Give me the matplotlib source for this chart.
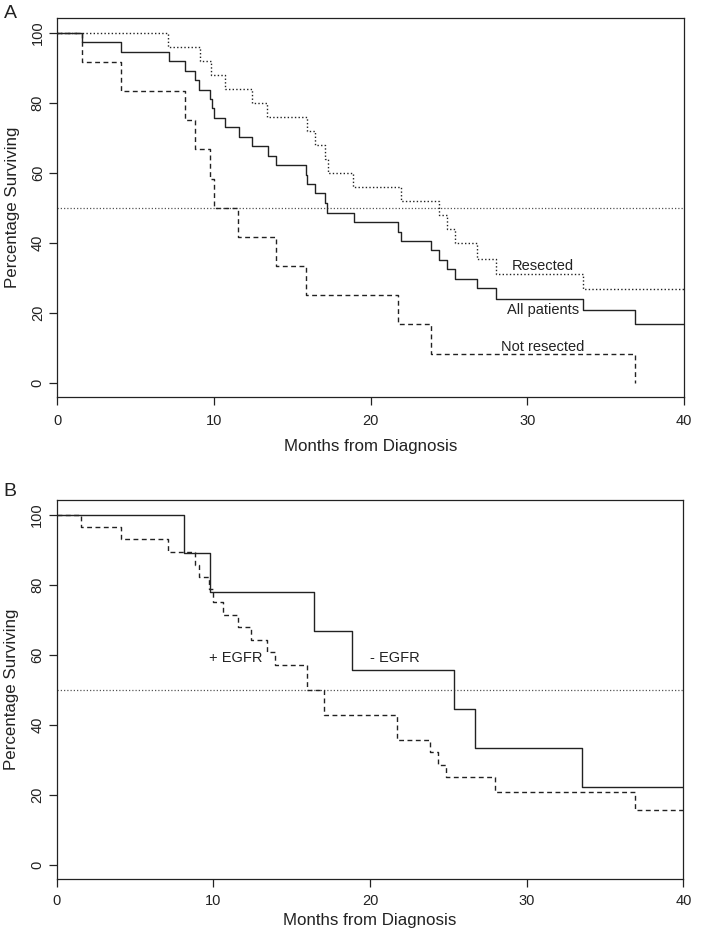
import numpy as np
import matplotlib
matplotlib.use("Agg")
import matplotlib.pyplot as plt

plt.rcParams['font.family'] = ['Liberation Sans', 'DejaVu Sans']

# Panel A: Kaplan-Meier curves (months, percentage surviving)
all_t = [0, 1.58, 4.09, 7.1, 8.13, 8.77, 9.04, 9.77, 9.85, 9.98, 10.72, 11.57, 12.42, 13.44,
         13.96, 15.87, 15.93, 16.45, 17.08, 17.2, 18.93, 21.76, 21.91, 23.83, 24.36, 24.89,
         25.4, 26.77, 28.02, 33.53, 36.9, 40]
all_s = [100, 97.3, 94.6, 91.9, 89.2, 86.5, 83.8, 81.1, 78.4, 75.7, 73.0, 70.3, 67.6, 64.9,
         62.2, 59.5, 56.8, 54.1, 51.4, 48.6, 45.9, 43.2, 40.5, 37.8, 35.1, 32.4,
         29.7, 27.0, 23.8, 20.8, 16.7, 16.7]

res_t = [0, 7.09, 9.09, 9.79, 10.68, 12.45, 13.4, 15.96, 16.43, 17.08, 17.3, 18.89, 21.91,
         24.34, 24.85, 25.38, 26.77, 28.02, 33.55, 40]
res_s = [100, 96.0, 92.0, 88.0, 84.0, 80.0, 76.0, 72.0, 68.0, 64.0, 60.0, 56.0, 52.0,
         48.0, 44.0, 39.8, 35.5, 31.2, 26.7, 26.7]

notres_t = [0, 1.58, 4.09, 8.15, 8.79, 9.74, 10.0, 11.55, 13.96, 15.87, 21.76, 23.83, 36.89]
notres_s = [100, 91.7, 83.3, 75.0, 66.7, 58.3, 50.0, 41.7, 33.3, 25.0, 16.7, 8.3, 0]

# Panel B: EGFR status
neg_t = [0, 8.13, 9.79, 16.43, 18.87, 25.38, 26.72, 33.52, 40]
neg_s = [100, 88.9, 77.8, 66.7, 55.6, 44.4, 33.3, 22.2, 22.2]

pos_t = [0, 1.55, 4.08, 7.09, 8.81, 9.08, 9.74, 9.96, 10.64, 11.55, 12.42, 13.4, 13.95,
         15.95, 17.08, 21.74, 23.82, 24.33, 24.86, 28.0, 36.89, 40]
pos_s = [100, 96.4, 92.9, 89.3, 85.7, 82.1, 78.6, 75.0, 71.4, 67.9, 64.3, 60.7, 57.1,
         50.0, 42.9, 35.7, 32.1, 28.6, 25.0, 20.8, 15.6, 15.6]

dashed = (0, (3.5, 2.5))
dotted = (0, (1, 1.6))
ink = '#222222'

fig = plt.figure(figsize=(7.19, 9.30), dpi=100)
axA = fig.add_axes([0.0797, 0.5728, 0.8716, 0.4075])
axB = fig.add_axes([0.0788, 0.0545, 0.8716, 0.4079])


def style(ax, xpad=6, xlabelpad=8):
    ax.set_xlim(0, 40)
    ax.set_ylim(-4.16, 104.16)
    ax.set_xticks([0, 10, 20, 30, 40])
    ax.set_yticks([0, 20, 40, 60, 80, 100])
    ax.set_yticklabels(['0', '20', '40', '60', '80', '100'], rotation=90, va='center')
    ax.tick_params(direction='out', length=6, width=0.9, colors=ink, labelsize=10.5)
    ax.tick_params(axis='x', pad=xpad)
    ax.tick_params(axis='y', pad=3)
    for sp in ax.spines.values():
        sp.set_linewidth(0.9)
        sp.set_color(ink)
    ax.set_xlabel('Months from Diagnosis', fontsize=12.2, color=ink, labelpad=xlabelpad)
    ax.set_ylabel('Percentage Surviving', fontsize=12.2, color=ink, labelpad=8)
    ax.axhline(50, color='#555555', lw=0.9, linestyle=dotted)


style(axA)
axA.step(all_t, all_s, where='post', color=ink, lw=1.0)
axA.step(res_t, res_s, where='post', color=ink, lw=1.0, linestyle=dotted)
axA.step(notres_t, notres_s, where='post', color=ink, lw=1.0, linestyle=dashed)
axA.text(31.0, 33.3, 'Resected', ha='center', va='center', fontsize=10.5, color=ink)
axA.text(31.0, 20.7, 'All patients', ha='center', va='center', fontsize=10.5, color=ink)
axA.text(31.0, 10.3, 'Not resected', ha='center', va='center', fontsize=10.5, color=ink)

style(axB, xpad=4.5, xlabelpad=4)
axB.step(neg_t, neg_s, where='post', color=ink, lw=1.0)
axB.step(pos_t, pos_s, where='post', color=ink, lw=1.0, linestyle=dashed)
axB.text(11.4, 59.1, '+ EGFR', ha='center', va='center', fontsize=10.5, color=ink)
axB.text(21.6, 59.1, '- EGFR', ha='center', va='center', fontsize=10.5, color=ink)

fig.text(10 / 719, 1 - 14 / 930, 'A', fontsize=14, ha='center', va='center', color=ink)
fig.text(10 / 719, 1 - 491 / 930, 'B', fontsize=14, ha='center', va='center', color=ink)

fig.savefig('out.png', dpi=100)
